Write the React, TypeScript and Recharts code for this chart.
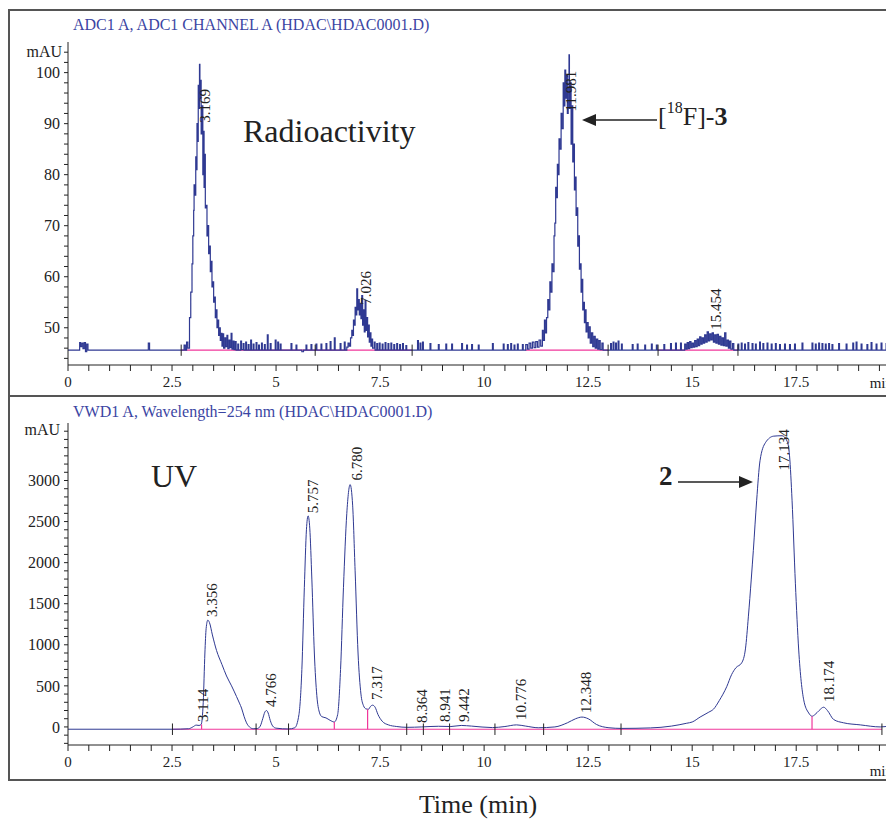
import React from "react";
import { LineChart, Line, XAxis, YAxis, ReferenceLine, ReferenceDot } from "recharts";

// axis labels
const timeLabels = [0, 2.5, 5, 7.5, 10, 12.5, 15, 17.5];
const radioLabels = [50, 60, 70, 80, 90, 100];
const uvLabels = [0, 500, 1000, 1500, 2000, 2500, 3000];

// radioactivity trace, [min, mAU]
const radioLeadIn = [
  [0, 45.6], [0.26, 45.6], [0.28, 47.1], [0.3, 46.3], [0.33, 47.0], [0.36, 45.9], [0.39, 47.1], [0.42, 45.3],
  [0.45, 46.8], [0.48, 45.6], [1.9, 45.6], [1.93, 47.0], [1.96, 45.6], [2.76, 45.6], [2.79, 46.6], [2.82, 45.6],
  [2.85, 47.2], [2.88, 46.0],
];
const radioPeak1 = [
  [2.92, 52.0], [2.95, 57.0], [2.98, 62.5], [3.0, 68.0], [3.02, 73.0], [3.03, 78.0], [3.05, 76.0], [3.07, 83.5],
  [3.08, 81.0], [3.1, 90.0], [3.11, 86.5], [3.13, 97.5], [3.14, 93.0], [3.16, 101.6], [3.17, 95.0], [3.19, 98.5],
  [3.2, 88.0], [3.22, 93.5], [3.24, 80.0], [3.25, 88.5], [3.27, 77.5], [3.29, 84.0], [3.3, 73.5], [3.32, 74.0],
  [3.34, 68.0], [3.36, 70.0], [3.38, 64.5], [3.4, 66.0], [3.42, 61.0], [3.44, 63.0], [3.46, 58.0], [3.48, 59.0],
  [3.5, 55.0], [3.52, 56.0], [3.54, 52.0], [3.56, 53.5], [3.58, 50.0], [3.6, 51.5], [3.62, 48.5], [3.64, 50.0],
  [3.66, 47.5], [3.68, 48.9], [3.7, 46.4], [3.72, 48.8], [3.74, 46.0], [3.77, 48.0], [3.79, 46.3], [3.82, 48.5],
  [3.84, 45.9], [3.87, 47.6], [3.89, 46.1], [3.92, 48.9], [3.94, 45.8], [3.97, 47.4], [3.99, 45.7],
];
const radioNoise1 = [
  [4.02, 47.3], [4.04, 45.6], [4.08, 46.8], [4.1, 45.6], [4.15, 47.4], [4.17, 45.7], [4.21, 46.9], [4.23, 45.6],
  [4.27, 47.2], [4.29, 45.6], [4.33, 46.7], [4.35, 45.6], [4.39, 47.6], [4.41, 45.6], [4.45, 46.8], [4.47, 45.6],
  [4.52, 47.1], [4.54, 45.6], [4.58, 46.6], [4.6, 45.6], [4.65, 47.0], [4.67, 45.6], [4.72, 46.7], [4.74, 45.6],
  [4.79, 48.6], [4.81, 45.6], [4.86, 46.9], [4.88, 45.6], [4.98, 47.6], [5.0, 45.6], [5.04, 47.2], [5.06, 45.6],
  [5.1, 46.8], [5.12, 45.6], [5.36, 46.9], [5.38, 45.6], [5.48, 46.6], [5.5, 45.6], [5.62, 45.3], [5.66, 45.6],
  [5.72, 46.6], [5.74, 45.6], [5.84, 46.7], [5.86, 45.6], [5.96, 46.8], [5.98, 45.6], [6.08, 46.8], [6.1, 45.6],
  [6.2, 46.9], [6.22, 45.6], [6.3, 47.3], [6.32, 45.6], [6.4, 48.0], [6.42, 45.6], [6.54, 46.9], [6.56, 45.6],
  [6.64, 47.2], [6.66, 45.6],
];
const radioPeak2 = [
  [6.7, 46.2], [6.73, 47.0], [6.76, 46.4], [6.79, 48.0], [6.82, 49.5], [6.84, 48.5], [6.86, 51.5], [6.88, 50.5],
  [6.9, 54.0], [6.92, 52.5], [6.94, 57.6], [6.96, 53.5], [6.98, 55.5], [7.0, 52.5], [7.02, 54.8], [7.04, 51.8],
  [7.06, 56.3], [7.08, 50.5], [7.1, 53.5], [7.12, 49.2], [7.14, 55.3], [7.16, 49.5], [7.18, 52.0], [7.2, 48.2],
  [7.22, 50.5], [7.24, 47.2], [7.26, 49.0], [7.28, 46.4], [7.3, 47.8], [7.32, 46.0],
];
const radioNoise2 = [
  [7.36, 47.2], [7.38, 45.6], [7.42, 46.9], [7.44, 45.6], [7.48, 47.0], [7.5, 45.6], [7.55, 46.8], [7.57, 45.6],
  [7.62, 47.1], [7.64, 45.6], [7.69, 46.9], [7.71, 45.6], [7.76, 47.0], [7.78, 45.6], [7.83, 46.7], [7.85, 45.6],
  [7.9, 46.9], [7.92, 45.6], [7.97, 46.7], [7.99, 45.6], [8.04, 46.9], [8.06, 45.6], [8.12, 46.5], [8.14, 45.6],
  [8.4, 47.5], [8.42, 45.6], [8.46, 47.0], [8.48, 45.6], [8.52, 47.2], [8.54, 45.6], [8.7, 46.9], [8.72, 45.6],
  [8.9, 46.7], [8.92, 45.6], [9.08, 46.8], [9.1, 45.6], [9.22, 46.8], [9.24, 45.6], [9.46, 46.9], [9.48, 45.6],
  [9.58, 46.6], [9.6, 45.6], [9.7, 46.7], [9.72, 45.6], [9.86, 46.6], [9.88, 45.6], [10.2, 46.9], [10.22, 45.6],
  [10.46, 46.8], [10.48, 45.6], [10.56, 46.7], [10.58, 45.6], [10.64, 46.9], [10.66, 45.6], [10.72, 46.6],
  [10.74, 45.6], [10.8, 46.8], [10.82, 45.6], [10.92, 46.7], [10.94, 45.6],
];
const radioPeak3 = [
  [11.0, 46.7], [11.04, 45.8], [11.08, 47.0], [11.12, 46.0], [11.16, 47.2], [11.2, 46.1], [11.24, 47.3],
  [11.28, 46.2], [11.32, 47.6], [11.36, 46.4], [11.4, 49.5], [11.42, 47.5], [11.45, 51.5], [11.47, 49.0],
  [11.5, 52.0], [11.53, 55.5], [11.55, 53.5], [11.58, 59.0], [11.6, 57.0], [11.63, 62.5], [11.65, 61.0],
  [11.68, 68.0], [11.7, 70.5], [11.72, 77.5], [11.74, 75.5], [11.76, 82.0], [11.78, 80.0], [11.8, 87.0],
  [11.82, 85.0], [11.85, 92.0], [11.87, 89.0], [11.9, 98.0], [11.92, 93.5], [11.94, 100.5], [11.96, 95.0],
  [11.98, 99.5], [12.0, 92.0], [12.02, 97.0], [12.04, 103.5], [12.05, 93.0], [12.07, 98.0], [12.09, 86.0],
  [12.11, 93.5], [12.13, 82.5], [12.15, 86.0], [12.17, 77.0], [12.19, 79.5], [12.21, 72.0], [12.23, 73.5],
  [12.25, 66.0], [12.27, 68.0], [12.29, 61.5], [12.31, 62.5], [12.33, 57.0], [12.35, 59.5], [12.37, 53.5],
  [12.39, 55.0], [12.41, 51.0], [12.43, 53.5], [12.45, 49.2], [12.47, 51.0], [12.5, 48.0], [12.52, 50.2],
  [12.55, 47.0], [12.58, 49.0], [12.61, 46.3], [12.64, 48.3], [12.67, 46.0], [12.7, 47.8], [12.73, 45.8],
  [12.76, 47.5], [12.79, 45.7], [12.83, 47.0], [12.86, 45.6],
];
const radioNoise3 = [
  [13.04, 46.9], [13.06, 45.6], [13.1, 47.2], [13.12, 45.6], [13.16, 47.0], [13.18, 45.6], [13.22, 47.4],
  [13.24, 45.6], [13.3, 46.8], [13.32, 45.6], [13.56, 46.7], [13.58, 45.6], [13.68, 46.8], [13.7, 45.6],
  [13.86, 46.6], [13.88, 45.6], [14.02, 46.8], [14.04, 45.6], [14.14, 46.6], [14.16, 45.6], [14.32, 46.7],
  [14.34, 45.6], [14.48, 46.9], [14.5, 45.6], [14.6, 47.0], [14.62, 45.6], [14.72, 47.0], [14.74, 45.6],
];
const radioPeak4 = [
  [14.82, 46.8], [14.85, 45.8], [14.88, 47.1], [14.91, 45.9], [14.94, 47.3], [14.97, 46.1], [15.0, 47.0],
  [15.03, 46.2], [15.06, 47.5], [15.09, 46.3], [15.12, 47.8], [15.15, 46.5], [15.18, 48.2], [15.21, 46.8],
  [15.24, 48.0], [15.27, 47.0], [15.3, 48.6], [15.33, 47.2], [15.36, 49.2], [15.39, 47.4], [15.42, 48.8],
  [15.45, 47.6], [15.48, 49.0], [15.51, 47.2], [15.54, 48.6], [15.57, 47.0], [15.6, 48.7], [15.63, 46.8],
  [15.66, 48.3], [15.69, 46.6], [15.72, 48.0], [15.75, 46.5], [15.78, 49.0], [15.81, 46.4], [15.84, 47.6],
  [15.87, 46.0], [15.9, 47.4], [15.93, 45.8], [15.97, 46.9], [16.0, 45.6],
];
const radioTail = [
  [16.1, 46.8], [16.12, 45.6], [16.18, 47.0], [16.2, 45.6], [16.26, 46.8], [16.28, 45.6], [16.34, 47.1],
  [16.36, 45.6], [16.44, 46.9], [16.46, 45.6], [16.52, 46.8], [16.54, 45.6], [16.62, 47.2], [16.64, 45.6],
  [16.7, 46.9], [16.72, 45.6], [16.8, 47.0], [16.82, 45.6], [16.9, 46.8], [16.92, 45.6], [17.0, 46.9],
  [17.02, 45.6], [17.1, 46.7], [17.12, 45.6], [17.22, 46.8], [17.24, 45.6], [17.34, 46.7], [17.36, 45.6],
  [17.46, 46.8], [17.48, 45.6], [17.64, 47.0], [17.66, 45.6], [17.88, 47.0], [17.9, 45.6], [17.96, 46.8],
  [17.98, 45.6], [18.04, 47.0], [18.06, 45.6], [18.12, 46.9], [18.14, 45.6], [18.2, 46.8], [18.22, 45.6],
  [18.28, 46.9], [18.3, 45.6], [18.36, 46.7], [18.38, 45.6], [18.52, 46.9], [18.54, 45.6], [18.7, 46.8],
  [18.72, 45.6], [18.86, 47.0], [18.88, 45.6], [18.94, 47.2], [18.96, 45.6], [19.06, 46.8], [19.08, 45.6],
  [19.2, 46.7], [19.22, 45.6], [19.3, 47.1], [19.32, 45.6], [19.42, 46.8], [19.44, 45.6], [19.54, 47.0],
  [19.56, 45.6], [19.66, 46.9], [19.68, 45.6], [19.76, 47.2], [19.78, 45.6], [19.86, 46.8], [19.88, 45.6],
  [21.0, 45.6],
];

// UV 254 nm trace, [min, mAU]
const uvTrace = [
  [0, -28], [2.5, -28], [2.9, -22], [3.0, 0], [3.08, 22], [3.15, 18], [3.2, 30], [3.25, 300], [3.29, 900],
  [3.32, 1200], [3.36, 1300], [3.4, 1270], [3.47, 1120], [3.57, 930], [3.7, 760], [3.81, 620], [3.93, 500],
  [4.05, 370], [4.12, 290], [4.17, 230], [4.23, 130], [4.29, 50], [4.36, 0], [4.45, -22], [4.55, -20],
  [4.62, 10], [4.68, 100], [4.73, 180], [4.77, 200], [4.81, 170], [4.86, 80], [4.92, 10], [5.0, -15],
  [5.3, -25], [5.45, -10], [5.55, 150], [5.62, 700], [5.68, 1700], [5.73, 2400], [5.77, 2570], [5.81, 2420],
  [5.86, 1800], [5.92, 900], [5.98, 380], [6.04, 180], [6.1, 125], [6.2, 110], [6.3, 80], [6.4, 60],
  [6.48, 150], [6.55, 700], [6.62, 1700], [6.7, 2600], [6.78, 2950], [6.84, 2700], [6.9, 1900], [6.97, 900],
  [7.04, 400], [7.1, 260], [7.16, 220], [7.22, 215], [7.27, 250], [7.32, 265], [7.38, 240], [7.45, 150],
  [7.55, 70], [7.7, 25], [7.9, 5], [8.15, -5], [8.5, 0], [8.9, 8], [9.2, 5], [9.45, 18], [9.7, 10],
  [10.2, -8], [10.5, 5], [10.78, 25], [11.0, 10], [11.3, -10], [11.7, 0], [12.0, 50], [12.2, 100],
  [12.35, 120], [12.5, 100], [12.7, 30], [13.0, -10], [13.3, -18], [14.0, -12], [14.5, 10], [14.87, 45],
  [15.0, 60], [15.19, 120], [15.4, 180], [15.51, 215], [15.65, 320], [15.83, 490], [15.95, 640], [16.05, 720],
  [16.19, 780], [16.28, 950], [16.35, 1340], [16.42, 1800], [16.47, 2150], [16.55, 2760], [16.63, 3240],
  [16.76, 3460], [16.96, 3540], [17.16, 3545], [17.28, 3480], [17.34, 3300], [17.4, 2760], [17.48, 1750],
  [17.56, 936], [17.68, 330], [17.8, 170], [17.88, 130], [17.95, 150], [18.05, 200], [18.16, 240], [18.25, 200],
  [18.4, 90], [18.64, 50], [19.04, 25], [19.52, 0], [19.75, 15], [19.9, 40], [20.2, 90], [21, 120],
];

// integration marks
const radioBaseLevel = 45.6;
const radioBaselines = [[2.72, 8.27], [10.99, 12.98], [14.18, 16.1]];
const radioCuts = [2.72, 5.94, 8.27, 12.98, 14.18, 16.1];
const uvBaseLevel = -28;
const uvBaselines = [[2.5, 19.56]];
const uvCuts = [2.51, 4.52, 5.3, 8.14, 8.54, 9.17, 10.26, 11.43, 13.29, 19.56];
const uvDrops = [[3.21, 30], [6.4, 60], [7.2, 215], [17.88, 130]];

// retention time tags: name, then where the text starts (min, mAU)
const radioTagNames = ["3.169", "7.026", "11.981", "15.454"];
const radioTagSpots = [[3.29, 90.2], [7.16, 54.5], [12.09, 92.4], [15.58, 49.6]];
const uvTagNames = ["3.114", "3.356", "4.766", "5.757", "6.780", "7.317", "8.364", "8.941", "9.442", "10.776", "12.348", "17.134", "18.174"];
const uvTagSpots = [
  [3.245, 61], [3.46, 1337], [4.88, 243], [5.89, 2600], [6.95, 3001], [7.43, 328], [8.51, 49], [9.06, 61],
  [9.52, 61], [10.89, 85], [12.45, 170], [17.21, 3123], [18.29, 304],
];

const serif = "'Liberation Serif', 'DejaVu Serif', serif";
const ink = "#222";
const traceBlue = "#2f3992";
const titleBlue = "#3b45a3";
const pink = "#f0379b";

const timeTicks = Array.from({ length: 40 }, (_, i) => i * 0.5);
const radioTicks = Array.from({ length: 31 }, (_, i) => 44 + i * 2);
const uvTicks = Array.from({ length: 39 }, (_, i) => -200 + i * 100);

const toRows = (pairs: number[][]) => pairs.map(([t, v]) => ({ t, v }));
const radioData = toRows([
  ...radioLeadIn, ...radioPeak1, ...radioNoise1, ...radioPeak2, ...radioNoise2,
  ...radioPeak3, ...radioNoise3, ...radioPeak4, ...radioTail,
]);
const uvData = toRows(uvTrace);

const PeakTag = ({ cx, cy, text }: any) => (
  <text
    x={cx}
    y={cy}
    transform={`rotate(-90 ${cx} ${cy})`}
    fontSize={15}
    fontFamily={serif}
    fill={ink}
    dominantBaseline="central"
  >
    {text}
  </text>
);

interface PanelProps {
  data: { t: number; v: number }[];
  yDomain: [number, number];
  yTicks: number[];
  yLabels: number[];
  height: number;
  top: number;
  curve: "linear" | "monotone" | "stepAfter";
  lineWidth: number;
  baseLevel: number;
  baselines: number[][];
  cuts: number[];
  cutHalf: number;
  drops: number[][];
  tagNames: string[];
  tagSpots: number[][];
}

const Panel: React.FC<PanelProps> = (p) => (
  <LineChart
    width={886}
    height={p.height}
    data={p.data}
    margin={{ top: p.top, right: 0, bottom: 0, left: 0 }}
    style={{ fontFamily: serif }}
  >
    <XAxis
      dataKey="t"
      type="number"
      domain={[0, 19.85]}
      allowDataOverflow
      ticks={timeTicks}
      interval={0}
      tickFormatter={(v: number) => (timeLabels.includes(v) ? String(v) : "")}
      tick={{ fontSize: 15, fill: ink, fontFamily: serif }}
      tickSize={6}
      tickMargin={5}
      axisLine={{ stroke: ink }}
      tickLine={{ stroke: ink }}
      height={30}
    />
    <YAxis
      type="number"
      domain={p.yDomain}
      allowDataOverflow
      ticks={p.yTicks}
      interval={0}
      tickFormatter={(v: number) => (p.yLabels.includes(v) ? String(v) : "")}
      tick={{ fontSize: 16, fill: ink, fontFamily: serif }}
      tickSize={4}
      tickMargin={4}
      axisLine={{ stroke: ink }}
      tickLine={{ stroke: ink }}
      width={60}
    />
    {p.baselines.map(([a, b], i) => (
      <ReferenceLine
        key={"b" + i}
        segment={[{ x: a, y: p.baseLevel }, { x: b, y: p.baseLevel }]}
        stroke={pink}
        strokeWidth={1.2}
      />
    ))}
    <Line
      dataKey="v"
      type={p.curve}
      dot={false}
      stroke={traceBlue}
      strokeWidth={p.lineWidth}
      isAnimationActive={false}
    />
    {p.cuts.map((t, i) => (
      <ReferenceLine
        key={"c" + i}
        segment={[{ x: t, y: p.baseLevel - p.cutHalf }, { x: t, y: p.baseLevel + p.cutHalf }]}
        stroke={ink}
      />
    ))}
    {p.drops.map(([t, v], i) => (
      <ReferenceLine
        key={"d" + i}
        segment={[{ x: t, y: p.baseLevel }, { x: t, y: v }]}
        stroke={pink}
        strokeWidth={1.2}
      />
    ))}
    {p.tagNames.map((name, i) => (
      <ReferenceDot
        key={"t" + i}
        x={p.tagSpots[i][0]}
        y={p.tagSpots[i][1]}
        r={0}
        shape={(s: any) => <PeakTag cx={s.cx} cy={s.cy} text={name} />}
      />
    ))}
  </LineChart>
);

export default function App() {
  return (
    <div style={{ position: "relative", width: 886, height: 811, background: "#fff" }}>
      <style>{"body { margin: 8px 8px 0 8px; }"}</style>
      <div
        style={{
          position: "absolute",
          left: 0,
          top: 1,
          width: 886,
          height: 772,
          border: "2px solid #555",
          borderRight: "none",
          boxSizing: "border-box",
        }}
      />
      <div style={{ position: "absolute", left: 0, top: 387, width: 886, height: 2, background: "#555" }} />

      <div style={{ position: "absolute", left: 0, top: 0 }}>
        <Panel
          data={radioData}
          yDomain={[42.7, 106]}
          yTicks={radioTicks}
          yLabels={radioLabels}
          height={387}
          top={34}
          curve="stepAfter"
          lineWidth={1.2}
          baseLevel={radioBaseLevel}
          baselines={radioBaselines}
          cuts={radioCuts}
          cutHalf={1.1}
          drops={[]}
          tagNames={radioTagNames}
          tagSpots={radioTagSpots}
        />
      </div>
      <div style={{ position: "absolute", left: 0, top: 388 }}>
        <Panel
          data={uvData}
          yDomain={[-220, 3700]}
          yTicks={uvTicks}
          yLabels={uvLabels}
          height={379}
          top={27}
          curve="monotone"
          lineWidth={1}
          baseLevel={uvBaseLevel}
          baselines={uvBaselines}
          cuts={uvCuts}
          cutHalf={70}
          drops={uvDrops}
          tagNames={uvTagNames}
          tagSpots={uvTagSpots}
        />
      </div>

      <svg
        width={886}
        height={811}
        viewBox="8 8 886 811"
        style={{ position: "absolute", left: 0, top: 0, pointerEvents: "none" }}
        fontFamily={serif}
      >
        <text x={73} y={30} fontSize={16} fill={titleBlue}>ADC1 A, ADC1 CHANNEL A (HDAC\HDAC0001.D)</text>
        <text x={73} y={417} fontSize={16} fill={titleBlue}>VWD1 A, Wavelength=254 nm (HDAC\HDAC0001.D)</text>
        <text x={62} y={57} fontSize={16} fill={ink} textAnchor="end">mAU</text>
        <text x={60} y={435} fontSize={16} fill={ink} textAnchor="end">mAU</text>
        <text x={893} y={388} fontSize={15} fill={ink} textAnchor="end">min</text>
        <text x={893} y={776} fontSize={15} fill={ink} textAnchor="end">min</text>

        <text x={243} y={142} fontSize={32} fill={ink}>Radioactivity</text>
        <text x={151} y={487} fontSize={32} fill={ink}>UV</text>

        <line x1={657} y1={120} x2={592} y2={120} stroke={ink} strokeWidth={1.5} />
        <polygon points="582,120 596,114 596,126" fill={ink} />
        <text x={658} y={125} fontSize={26} fill={ink}>
          [<tspan fontSize={16} dy={-12}>18</tspan>
          <tspan dy={12}>F]-</tspan>
          <tspan fontWeight="bold">3</tspan>
        </text>

        <text x={659} y={485} fontSize={27} fontWeight="bold" fill={ink}>2</text>
        <line x1={678} y1={482} x2={742} y2={482} stroke={ink} strokeWidth={1.5} />
        <polygon points="753,482 739,476 739,488" fill={ink} />

        <text x={478} y={813} fontSize={26} fill={ink} textAnchor="middle">Time (min)</text>
      </svg>
    </div>
  );
}
